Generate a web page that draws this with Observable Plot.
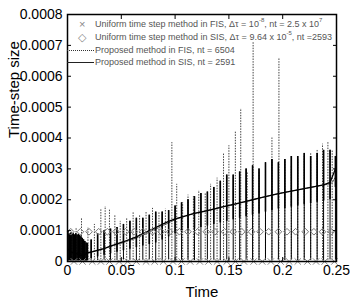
<!DOCTYPE html>
<html><head><meta charset="utf-8">
<script src="https://cdn.jsdelivr.net/npm/d3@7"></script>
<script src="https://cdn.jsdelivr.net/npm/@observablehq/plot@0.6"></script>
<style>
body{margin:0;background:#fff;}
#wrap{position:relative;width:350px;height:306px;font-family:Arial,"Liberation Sans",sans-serif;}
#legend{position:absolute;left:0;top:0;width:350px;height:80px;pointer-events:none;}
.row{position:absolute;left:95px;font-size:9px;color:#555;white-space:nowrap;line-height:10px;}
.row sup{font-size:6px;line-height:0;position:relative;top:-1px;}
.sym{position:absolute;font-size:11px;color:#888;line-height:10px;}
.ln{position:absolute;left:67px;width:27px;height:0;}
</style>
</head><body>
<div id="wrap">
<div id="chart"></div>
<div id="legend">
  <span class="sym" style="left:79px;top:19px">×</span>
  <div class="row" style="top:19px">Uniform time step method in FIS, Δτ = 10<sup>-8</sup>, nt = 2.5 x 10<sup>7</sup></div>
  <span class="sym" style="left:78px;top:32px">◇</span>
  <div class="row" style="top:32px">Uniform time step method in SIS, Δτ = 9.64 x 10<sup>-5</sup>, nt =2593</div>
  <div class="ln" style="top:50px;border-top:1px dotted #333"></div>
  <div class="row" style="top:45px">Proposed method in FIS, nt = 6504</div>
  <div class="ln" style="top:62px;border-top:1px solid #222"></div>
  <div class="row" style="top:57px">Proposed method in SIS, nt = 2591</div>
</div>
</div>
<script>
// Axis ticks
const xTicks = [0, 0.05, 0.1, 0.15, 0.2, 0.25];
const xTickLabels = ["0", "0.05", "0.1", "0.15", "0.2", "0.25"];
const yTicks = [0, 0.0001, 0.0002, 0.0003, 0.0004, 0.0005, 0.0006, 0.0007, 0.0008];
const yTickLabels = ["0", "0.0001", "0.0002", "0.0003", "0.0004", "0.0005", "0.0006", "0.0007", "0.0008"];

// Uniform time step, FIS (dt = 1e-8) marker times
const uniformFisDt = 1e-8;
const uniformFisT = [0.006,0.014,0.023,0.031,0.039,0.048,0.056,0.064,0.073,0.081,0.089,0.098,0.106,0.114,0.123,0.131,0.139,0.148,0.156,0.164,0.173,0.181,0.189,0.198,0.206,0.214,0.223,0.231,0.239,0.248];
// Uniform time step, SIS (dt = 9.64e-5) marker times
const uniformSisDt = 9.64e-5;
const uniformSisT = [0.003,0.012,0.020,0.029,0.037,0.045,0.054,0.062,0.070,0.079,0.087,0.095,0.104,0.112,0.121,0.129,0.137,0.146,0.154,0.162,0.171,0.179,0.187,0.196,0.204,0.212,0.221,0.229,0.237,0.245];

// Proposed method in SIS (solid): per cycle time, trend value, low, dense-band low, high
const sisT = [0.0005,0.0017,0.0029,0.0041,0.0053,0.0065,0.0077,0.0089,0.0101,0.0113,0.0125,0.0137,0.0149,0.0161,0.0173,0.0185,
  0.022,0.028,0.034,0.040,0.046,0.052,0.058,0.064,0.070,0.076,0.082,0.088,0.094,0.100,0.106,0.112,0.118,0.124,0.130,0.136,0.142,0.148,0.154,0.160,0.166,0.172,0.178,0.184,0.190,0.196,0.202,0.208,0.214,0.220,0.226,0.232,0.238,0.244,0.249];
const sisMid = [0.00004,0.000035,0.00003,0.00003,0.000028,0.000028,0.000025,0.000025,0.000022,0.00002,0.00002,0.00002,0.00002,0.000022,0.000025,0.000028,
  0.00003,0.000036,0.000042,0.00005,0.000057,0.000064,0.000072,0.00008,0.00009,0.0001,0.00011,0.00012,0.00013,0.000138,0.000144,0.00015,0.000156,0.00016,0.000165,0.00017,0.000175,0.00018,0.000185,0.00019,0.000195,0.0002,0.000205,0.00021,0.000215,0.00022,0.000224,0.000228,0.000232,0.000236,0.00024,0.000244,0.000248,0.000256,0.0003];
const sisHigh = [0.0001,0.00009,0.000092,0.000088,0.00009,0.000086,0.00009,0.000085,0.000088,0.000084,0.00008,0.000075,0.00007,0.000065,0.00006,0.000058,
  0.00007,0.00009,0.0001,0.000105,0.00011,0.00012,0.00013,0.00014,0.00014,0.00015,0.00016,0.00016,0.000165,0.00018,0.00019,0.0002,0.00021,0.00022,0.000225,0.00024,0.00026,0.00028,0.00028,0.00029,0.0003,0.00031,0.0003,0.00032,0.00033,0.00032,0.00033,0.00034,0.00034,0.00035,0.00034,0.00035,0.00036,0.00036,0.00034];
const sisBandLow = [0.000002,0.000002,0.000002,0.000002,0.000002,0.000002,0.000002,0.000002,0.000002,0.000002,0.000002,0.000002,0.000002,0.000002,0.000002,0.000002,
  0.00001,0.000015,0.00002,0.000025,0.00003,0.000035,0.00004,0.000045,0.00005,0.000055,0.00006,0.00007,0.00008,0.00009,0.000095,0.0001,0.000105,0.00011,0.000115,0.00012,0.000125,0.00013,0.000135,0.00014,0.000145,0.00015,0.000155,0.00016,0.000165,0.00017,0.000172,0.000176,0.00018,0.000184,0.000188,0.000192,0.000196,0.0002,0.00024];
const sisLow = [0.000002,0.000003,0.000002,0.000004,0.000002,0.000003,0.000002,0.000004,0.000002,0.000003,0.000002,0.000003,0.000002,0.000004,0.000002,0.000003,
  0.000004,0.000003,0.000005,0.000004,0.000003,0.000005,0.000004,0.000003,0.000004,0.000005,0.000003,0.000004,0.000005,0.000003,0.000004,0.000005,0.000003,0.000004,0.000005,0.000004,0.000003,0.000005,0.000004,0.000003,0.000005,0.000004,0.000003,0.000004,0.000005,0.000003,0.000004,0.000005,0.000003,0.000004,0.000005,0.000004,0.000003,0.000005,0.000004];

// Proposed method in FIS (dotted): per cycle time, trend value, low, high
const fisT = [0.004,0.008,0.013,0.019,0.025,0.031,0.035,0.039,0.044,0.049,0.055,0.061,0.067,0.073,0.079,0.085,0.091,0.097,0.1015,0.107,0.112,0.117,0.122,0.128,0.133,0.139,0.145,0.150,0.156,0.161,0.167,0.1725,0.178,0.184,0.190,0.1965,0.202,0.208,0.214,0.220,0.226,0.232,0.237,0.242,0.246,0.250];
const fisMid = [0.00003,0.00003,0.000025,0.00003,0.000034,0.00004,0.000044,0.000048,0.000053,0.000058,0.000065,0.000072,0.00008,0.00009,0.0001,0.00011,0.00012,0.00013,0.000138,0.000144,0.00015,0.000155,0.00016,0.000164,0.000168,0.000172,0.000177,0.00018,0.000185,0.00019,0.000195,0.0002,0.000205,0.00021,0.000215,0.00022,0.000224,0.000228,0.000232,0.000236,0.00024,0.000244,0.000247,0.00025,0.000255,0.00028];
const fisHigh = [0.0001,0.00011,0.00014,0.00011,0.00012,0.00017,0.000178,0.00017,0.00015,0.00013,0.00014,0.00016,0.00015,0.00016,0.000172,0.00016,0.00017,0.000385,0.00025,0.00019,0.000215,0.00021,0.00023,0.00022,0.00025,0.00027,0.00035,0.000375,0.00042,0.000495,0.00029,0.00071,0.00029,0.00031,0.0004,0.00066,0.00033,0.00031,0.00033,0.00034,0.00035,0.00036,0.00038,0.000385,0.00036,0.00034];
const fisLow = [0.000003,0.000005,0.000002,0.000004,0.000003,0.000005,0.000002,0.000004,0.000003,0.000005,0.000002,0.000004,0.000003,0.000005,0.000002,0.000004,0.000003,0.000005,0.000002,0.000004,0.000003,0.000005,0.000002,0.000004,0.000003,0.000005,0.000002,0.000004,0.000003,0.000005,0.000002,0.000004,0.000003,0.000005,0.000002,0.000004,0.000003,0.000005,0.000002,0.000004,0.000003,0.000005,0.000002,0.000004,0.000003,0.000005];

// Tables built from the arrays
const sis = sisT.map((t, i) => ({t, mid: sisMid[i], low: sisLow[i], band: sisBandLow[i], high: sisHigh[i]}));
const fis = fisT.map((t, i) => ({t, mid: fisMid[i], low: fisLow[i], high: fisHigh[i]}));
const uniFis = uniformFisT.map(t => ({t, v: uniformFisDt}));
const uniSis = uniformSisT.map(t => ({t, v: uniformSisDt}));

const xLab = new Map(xTicks.map((d, i) => [d, xTickLabels[i]]));
const yLab = new Map(yTicks.map((d, i) => [d, yTickLabels[i]]));

const chart = Plot.plot({
  width: 350, height: 306,
  marginLeft: 67, marginRight: 14, marginTop: 14, marginBottom: 45,
  x: {domain: [0, 0.25]},
  y: {domain: [0, 0.0008]},
  style: {fontFamily: "Arial, 'Liberation Sans', sans-serif", fontSize: "14px", color: "#000", background: "white", overflow: "visible"},
  marks: [
    // FIS: dotted spikes and dotted trend
    Plot.ruleX(fis, {x: "t", y1: "low", y2: "high", stroke: "#444", strokeWidth: 1, strokeDasharray: "1.5,1.2"}),
    Plot.line(fis, {x: "t", y: "mid", stroke: "#555", strokeWidth: 1, strokeDasharray: "1.5,1.2"}),
    // SIS: thin full drops, dense band, trend line
    Plot.ruleX(sis, {x: "t", y1: "low", y2: "high", stroke: "#000", strokeWidth: 1}),
    Plot.ruleX(sis, {x: "t", y1: "band", y2: "high", stroke: "#000", strokeWidth: 1.6}),
    Plot.line(sis, {x: "t", y: "mid", stroke: "#000", strokeWidth: 1.3}),
    // uniform step markers
    Plot.dot(uniSis, {x: "t", y: "v", symbol: "diamond2", r: 3, stroke: "#777", strokeWidth: 1}),
    Plot.dot(uniFis, {x: "t", y: "v", symbol: "times", r: 3, stroke: "#888", strokeWidth: 1}),
    Plot.frame({stroke: "#000", strokeWidth: 1.5}),
    Plot.axisX({anchor: "bottom", ticks: xTicks, tickFormat: d => xLab.get(d), tickSize: -4, tickPadding: 8, label: null}),
    Plot.axisX({anchor: "top", ticks: xTicks, tickFormat: () => "", tickSize: -4, label: null}),
    Plot.axisY({anchor: "left", ticks: yTicks, tickFormat: d => yLab.get(d), tickSize: -4, tickPadding: 9, label: null}),
    Plot.axisY({anchor: "right", ticks: yTicks, tickFormat: () => "", tickSize: -4, label: null}),
    Plot.text(["Time"], {frameAnchor: "bottom", dy: 35, fontSize: 15}),
    Plot.text(["Time-step size"], {frameAnchor: "left", dx: -53, rotate: -90, fontSize: 15})
  ]
});
document.getElementById("chart").appendChild(chart);
</script>
</body></html>
